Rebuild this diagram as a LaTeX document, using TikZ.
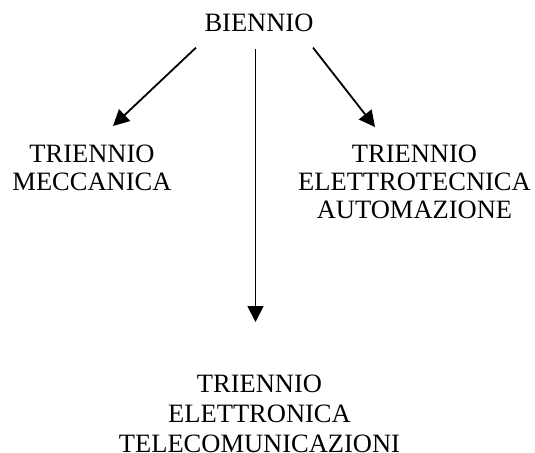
\documentclass[tikz,border=0pt]{standalone}
\usepackage{fontspec}
\setmainfont{Liberation Serif}
\usetikzlibrary{arrows.meta,calc}

\begin{document}
\begin{tikzpicture}[x=0.5pt,y=-0.5pt,
    label/.style={align=center,inner sep=0pt,anchor=north,font=\fontsize{13.25pt}{14pt}\selectfont},
    arr/.style={line width=0.9pt,-{Triangle[length=8pt,width=8pt]}}]
        \useasboundingbox (0,0) rectangle (535,452); % page size

        \node[label] (biennio) at (259,14) {BIENNIO};
        \node[label] (mecc) at (92,145) {TRIENNIO\\MECCANICA};
        \node[label] (elettrotec) at (414.5,145) {TRIENNIO\\ELETTROTECNICA\\AUTOMAZIONE};
        \node[label,font=\fontsize{13.25pt}{15pt}\selectfont] (elettron) at (259.5,375) {TRIENNIO\\ELETTRONICA\\TELECOMUNICAZIONI};

        % arrows from biennio
        \draw[arr] ($(biennio.south)+(-63,15)$) -- ($(mecc.north)+(21,-19)$);
        \draw[arr] ($(biennio.south)+(-3.5,16)$) -- ($(elettron.north)+(-4,-53)$);
        \draw[arr] ($(biennio.south)+(54,15)$) -- ($(elettrotec.north)+(-39.5,-18)$);
    \end{tikzpicture}
\end{document}
